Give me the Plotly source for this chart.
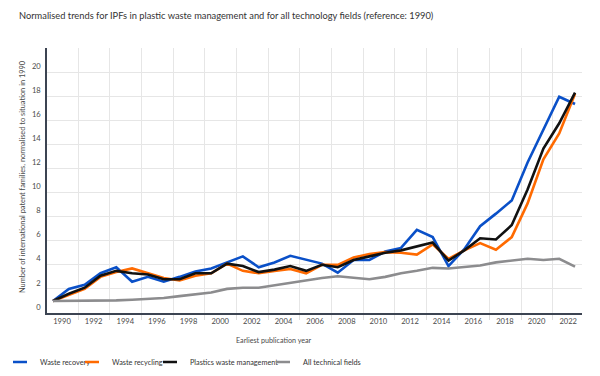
import plotly.graph_objects as go

years = list(range(1990, 2024))

waste_recovery = [1.0, 2.0, 2.35, 3.3, 3.8, 2.6, 3.0, 2.6, 3.0, 3.45, 3.7, 4.2, 4.7, 3.8, 4.2, 4.75,
                  4.4, 4.1, 3.35, 4.4, 4.4, 5.1, 5.4, 6.9, 6.3, 3.9, 5.3, 7.2, 8.25, 9.35, 12.5, 15.2,
                  17.95, 17.35]
waste_recycling = [1.0, 1.5, 2.0, 3.0, 3.4, 3.7, 3.3, 2.9, 2.7, 3.1, 3.3, 4.1, 3.5, 3.3, 3.5, 3.65,
                   3.3, 4.0, 4.0, 4.6, 4.9, 5.05, 5.0, 4.85, 5.7, 4.5, 5.2, 5.8, 5.25, 6.3, 9.1, 12.75,
                   14.9, 18.2]
plastics_waste_mgmt = [1.0, 1.6, 2.1, 3.1, 3.5, 3.3, 3.2, 2.8, 2.8, 3.3, 3.3, 4.1, 3.9, 3.4, 3.6, 3.9,
                       3.5, 4.0, 3.8, 4.4, 4.7, 5.0, 5.2, 5.5, 5.85, 4.35, 5.2, 6.2, 6.1, 7.3, 10.25, 13.65,
                       15.75, 18.3]
all_fields = [1.0, 1.0, 1.02, 1.03, 1.05, 1.1, 1.15, 1.25, 1.4, 1.55, 1.7, 2.0, 2.1, 2.1, 2.3, 2.5,
              2.75, 2.9, 3.05, 2.95, 2.8, 3.0, 3.3, 3.5, 3.75, 3.7, 3.8, 3.95, 4.2, 4.35, 4.5, 4.4,
              4.5, 3.85]

series = [
    ("Waste recovery", waste_recovery, "#0a50c8"),
    ("Waste recycling", waste_recycling, "#ff6a00"),
    ("Plastics waste management", plastics_waste_mgmt, "#111111"),
    ("All technical fields", all_fields, "#8c8c8e"),
]

x_tick_years = list(range(1990, 2023, 2))
y_ticks = list(range(0, 23, 2))

FONT = "Lato, sans-serif"
TXT = "#4a4a4a"

# one legend per series so each entry sits where the reference puts it
legend_ids = ["legend", "legend2", "legend3", "legend4"]
legend_left_px = [-3, 72, 150, 263]

fig = go.Figure()
for (name, vals, col), lid in zip(series, legend_ids):
    fig.add_trace(go.Scatter(x=years, y=vals, name=name, mode="lines", showlegend=False,
                             legendgroup=name, line=dict(color=col, width=2.6)))
    # legend entry with a short line key, as in the reference
    fig.add_trace(go.Scatter(x=[None], y=[None], name=name, mode="markers", legend=lid,
                             legendgroup=name, hoverinfo="skip",
                             marker=dict(symbol="line-ew", size=10, color=col,
                                         line=dict(color=col, width=2.4))))

legend_style = dict(orientation="h", xref="container", yref="container",
                    y=1-362/376, xanchor="left", yanchor="middle",
                    font=dict(family=FONT, size=7.3, color="#333333"),
                    itemwidth=30, bgcolor="rgba(0,0,0,0)")

fig.update_layout(
    template="none",
    width=600, height=376,
    margin=dict(l=47, r=18, t=48, b=63, autoexpand=False),
    plot_bgcolor="white", paper_bgcolor="white",
    font=dict(family=FONT, size=8, color=TXT),
    title=dict(text="Normalised trends for IPFs in plastic waste management and for all technology fields (reference: 1990)",
               x=19/600, xanchor="left", y=1-16/376, yanchor="middle",
               font=dict(family=FONT, size=9.3, color="#333333")),
    showlegend=True,
    **{lid: dict(legend_style, x=px/600) for lid, px in zip(legend_ids, legend_left_px)},
    xaxis=dict(range=[1989.62, 2023.44], tickvals=x_tick_years,
               ticktext=[str(y) for y in x_tick_years], automargin=False,
               showgrid=False, ticks="", ticklabelshift=9, ticklabelstandoff=0,
               showline=True, linecolor="#3c4452", linewidth=1.5,
               zeroline=False, tickfont=dict(size=7.6, color=TXT),
               minor=dict(tickvals=[y + 1.6 for y in x_tick_years], showgrid=True,
                          gridcolor="#e6e6e6", gridwidth=1, ticks="outside",
                          ticklen=5, tickcolor="#dddddd", tickwidth=1)),
    yaxis=dict(range=[0, 22], tickvals=y_ticks, automargin=False,
               ticktext=[str(v) if v <= 20 else "" for v in y_ticks],
               showgrid=True, gridcolor="#e6e6e6", gridwidth=1, ticks="",
               ticklabelshift=-6, ticklabelstandoff=3,
               showline=True, linecolor="#3c4452", linewidth=1.5,
               zeroline=False, tickfont=dict(size=7.6, color=TXT)),
    annotations=[
        dict(text="Earliest publication year", xref="paper", yref="paper",
             x=(274-47)/535, y=-(340-313)/265, xanchor="center", yanchor="middle",
             showarrow=False, font=dict(family=FONT, size=7.2, color=TXT)),
        dict(text="Number of international patent families, normalised to situation in 1990",
             xref="paper", yref="paper", x=(22-47)/535, y=(313-177)/265,
             xanchor="center", yanchor="middle", textangle=-90,
             showarrow=False, font=dict(family=FONT, size=7.4, color=TXT)),
    ],
)

fig.write_html("out.html", config={"displayModeBar": False},
               post_script="document.body.style.margin='0';")
